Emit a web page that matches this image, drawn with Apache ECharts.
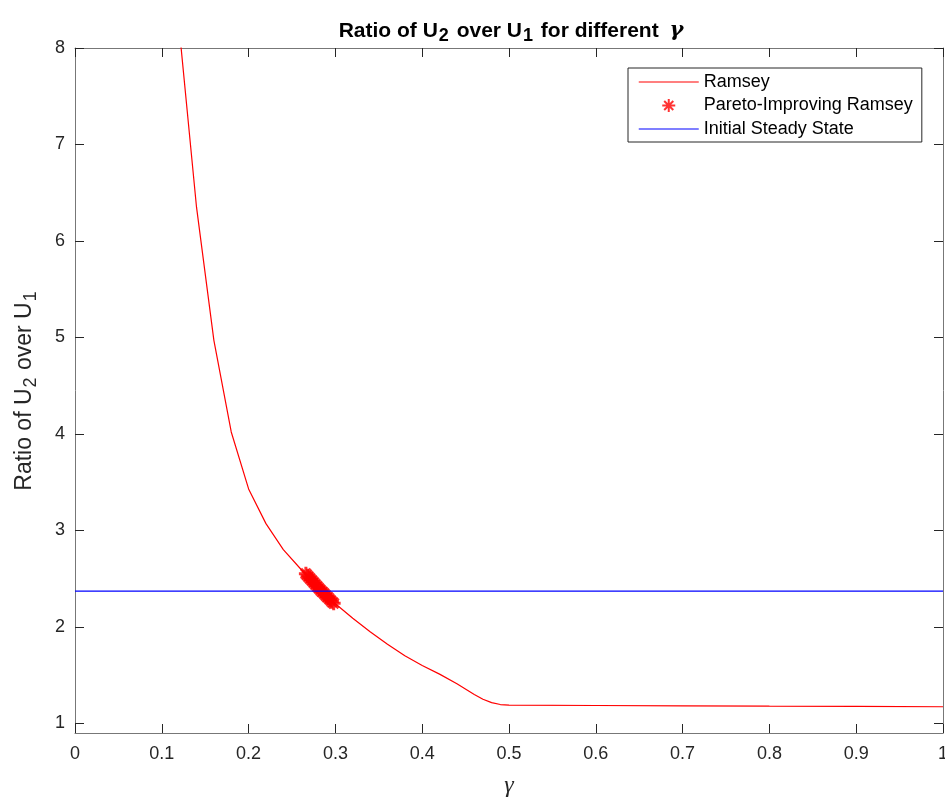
<!DOCTYPE html>
<html>
<head>
<meta charset="utf-8">
<script src="https://cdn.jsdelivr.net/npm/echarts@6/dist/echarts.min.js"></script>
<style>
  html, body { margin: 0; padding: 0; background: #fff; }
  #chart { width: 945px; height: 799px; }
</style>
</head>
<body>
<div id="chart"></div>
<script>
// Ramsey curve
const gammaRamsey = [0.12, 0.14, 0.16, 0.18, 0.20, 0.22, 0.24, 0.26, 0.28, 0.30, 0.32, 0.34, 0.36, 0.38, 0.40, 0.42, 0.44, 0.46, 0.47, 0.48, 0.49, 0.50, 0.60, 0.70, 0.80, 0.90, 1.00];
const ratioRamsey = [8.21, 6.35, 4.97, 4.02, 3.43, 3.07, 2.80, 2.60, 2.41, 2.24, 2.09, 1.95, 1.82, 1.70, 1.60, 1.51, 1.41, 1.30, 1.25, 1.215, 1.195, 1.188, 1.185, 1.182, 1.178, 1.175, 1.172];
// Pareto-improving points
const gammaPareto = [0.266, 0.268, 0.270, 0.272, 0.274, 0.276, 0.278, 0.280, 0.282, 0.284, 0.286, 0.288, 0.290, 0.292, 0.294, 0.296, 0.298];
const ratioPareto = [2.55, 2.53, 2.51, 2.49, 2.47, 2.45, 2.43, 2.41, 2.39, 2.37, 2.355, 2.335, 2.315, 2.30, 2.28, 2.26, 2.245];
// initial steady state
const gammaInit = [0, 1];
const ratioInit = [2.37, 2.37];
const yTicks = [1, 2, 3, 4, 5, 6, 7, 8];

const zip = (xs, ys) => xs.map((x, i) => [x, ys[i]]);

const starPath = 'path://M0,-1L0,1M-1,0L1,0M-0.7,-0.7L0.7,0.7M-0.7,0.7L0.7,-0.7';
const axisCol = '#777';
const txtCol = '#262626';

let chart = echarts.init(document.getElementById('chart'), null, { renderer: 'canvas' });
let option = {
  animation: false,
  backgroundColor: '#fff',
  grid: { left: 75, right: 2, top: 48, bottom: 66, outerBoundsMode: 'none' },
  graphic: [{
    type: 'text',
    x: 511,
    y: 31,
    style: {
      text: '{b|Ratio of U}{s|2}{b| over U}{s|1}{b| for different }{g|γ}',
      align: 'center',
      verticalAlign: 'middle',
      rich: {
        b: { fontFamily: 'Liberation Sans', fontWeight: 'bold', fontSize: 21, lineHeight: 21, fill: '#000' },
        s: { fontFamily: 'Liberation Sans', fontWeight: 'bold', fontSize: 18, lineHeight: 18, padding: [11, 2, 0, 1], fill: '#000' },
        g: { fontFamily: 'DejaVu Serif', fontStyle: 'italic', fontWeight: 'bold', fontSize: 21, lineHeight: 21, padding: [0, 0, 0, 5], fill: '#000' }
      }
    }
  }],
  legend: {
    orient: 'vertical',
    left: 628,
    top: 68,
    padding: [5, 9, 4, 10],
    itemWidth: 60,
    itemHeight: 13,
    itemGap: 5.5,
    borderColor: '#262626',
    borderWidth: 1,
    backgroundColor: '#fff',
    textStyle: { fontFamily: 'Liberation Sans', fontSize: 18, lineHeight: 18, color: '#000' },
    data: [
      { name: 'Ramsey', itemStyle: { opacity: 0 }, lineStyle: { color: '#ff5555', width: 1.5 } },
      { name: 'Pareto-Improving Ramsey' },
      { name: 'Initial Steady State', itemStyle: { opacity: 0 }, lineStyle: { color: '#5555ff', width: 1.5 } }
    ]
  },
  xAxis: [{
    type: 'value',
    min: 0,
    max: 1,
    interval: 0.1,
    name: 'γ',
    nameLocation: 'middle',
    nameGap: 41,
    nameTextStyle: { fontFamily: 'Liberation Serif', fontStyle: 'italic', fontSize: 24, color: txtCol },
    axisLine: { show: true, onZero: false, lineStyle: { color: axisCol, width: 1 } },
    axisTick: { show: true, inside: true, length: 9, lineStyle: { color: txtCol } },
    axisLabel: { fontFamily: 'Liberation Sans', fontSize: 18, color: txtCol, margin: 12 },
    splitLine: { show: false }
  }, {
    type: 'value',
    position: 'top',
    min: 0,
    max: 1,
    interval: 0.1,
    axisLine: { show: true, onZero: false, lineStyle: { color: axisCol, width: 1 } },
    axisTick: { show: true, inside: true, length: 9, lineStyle: { color: txtCol } },
    axisLabel: { show: false },
    splitLine: { show: false }
  }],
  yAxis: [{
    type: 'value',
    min: 0.9,
    max: 8,
    name: '{t|Ratio of U}{s|2}{t| over U}{s|1}',
    nameLocation: 'middle',
    nameGap: 39,
    nameTextStyle: {
      rich: {
        t: { fontFamily: 'Liberation Sans', fontSize: 23, lineHeight: 23, color: txtCol },
        s: { fontFamily: 'Liberation Sans', fontSize: 18, lineHeight: 18, padding: [13, 1, 0, 1], color: txtCol }
      }
    },
    axisLine: { show: true, onZero: false, lineStyle: { color: axisCol, width: 1 } },
    axisTick: { show: true, inside: true, length: 9, customValues: yTicks, lineStyle: { color: txtCol } },
    axisLabel: { fontFamily: 'Liberation Sans', fontSize: 18, color: txtCol, margin: 10, customValues: yTicks },
    splitLine: { show: false }
  }, {
    type: 'value',
    position: 'right',
    min: 0.9,
    max: 8,
    axisLine: { show: true, onZero: false, lineStyle: { color: axisCol, width: 1 } },
    axisTick: { show: true, inside: true, length: 9, customValues: yTicks, lineStyle: { color: txtCol } },
    axisLabel: { show: false, customValues: yTicks },
    splitLine: { show: false }
  }],
  series: [
    {
      name: 'Ramsey',
      type: 'line',
      data: zip(gammaRamsey, ratioRamsey),
      symbol: 'none',
      clip: true,
      lineStyle: { color: '#ff0000', width: 1.2 },
      itemStyle: { color: '#ff0000' },
      z: 2
    },
    {
      name: 'Pareto-Improving Ramsey',
      type: 'scatter',
      data: zip(gammaPareto, ratioPareto),
      symbol: starPath,
      symbolSize: 14,
      itemStyle: { color: '#ff0000', borderColor: '#ff0000', borderWidth: 3 },
      z: 3
    },
    {
      name: 'Initial Steady State',
      type: 'line',
      data: zip(gammaInit, ratioInit),
      symbol: 'none',
      lineStyle: { color: '#0000ff', width: 1.2 },
      itemStyle: { color: '#0000ff' },
      z: 4
    }
  ]
};
chart.setOption(option);
window.addEventListener('resize', () => {
  chart.resize();
});
</script>
</body>
</html>
